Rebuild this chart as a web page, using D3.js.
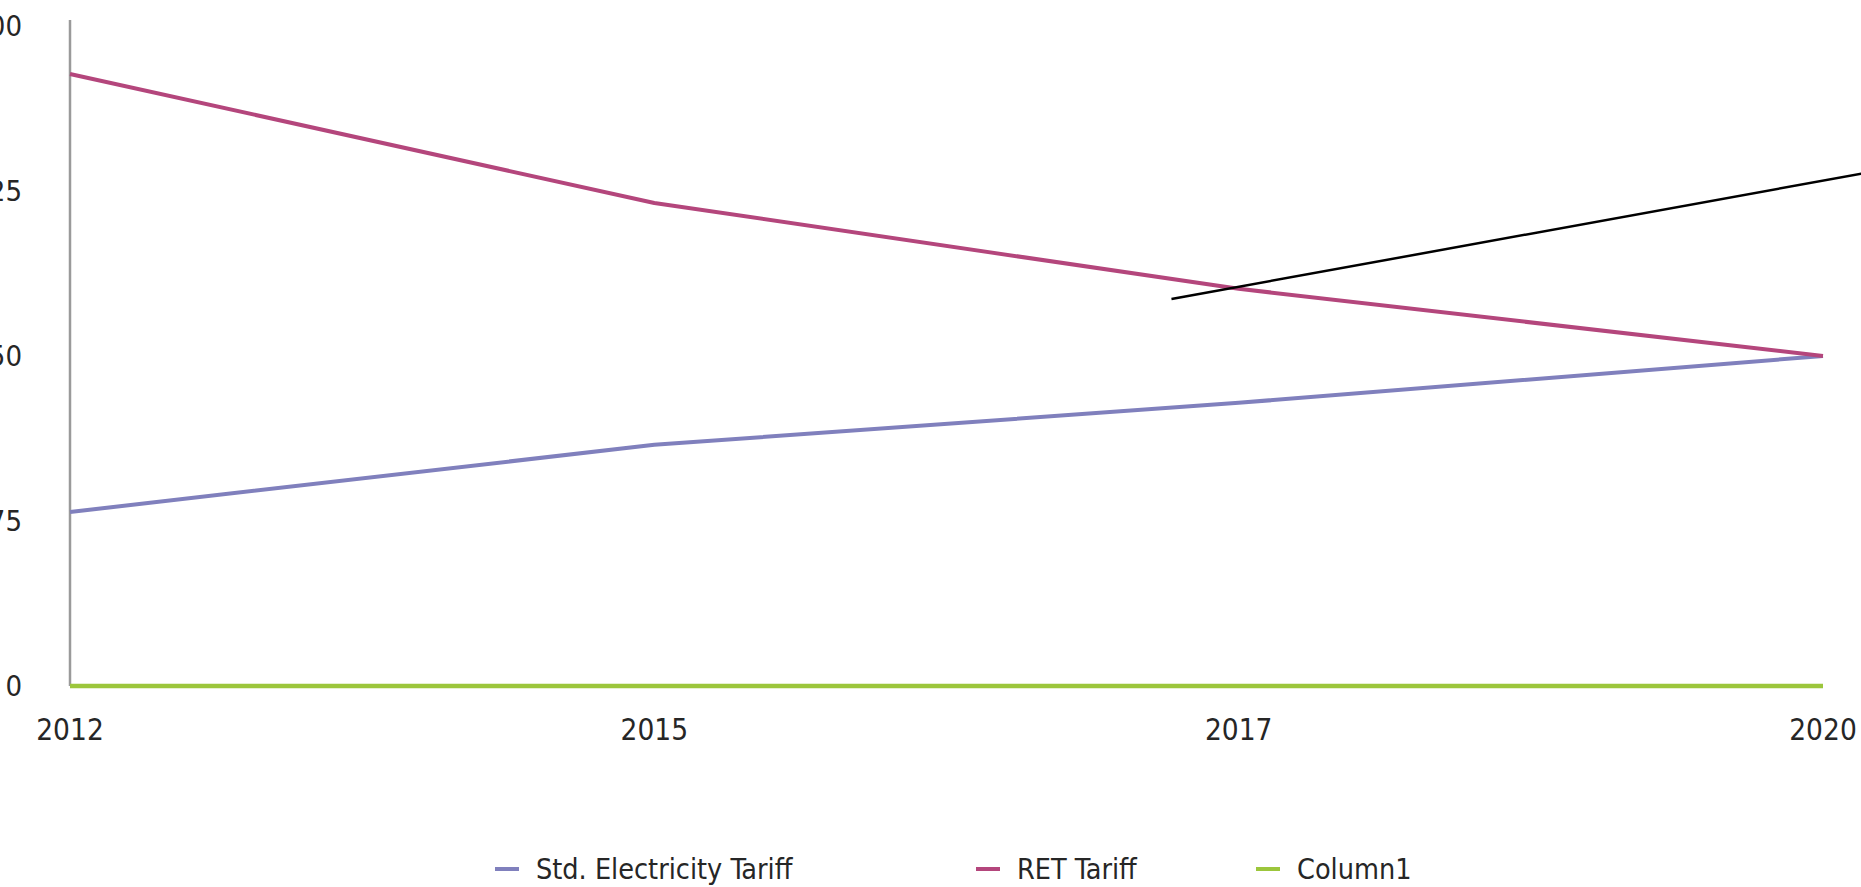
<!DOCTYPE html>
<html>
<head>
<meta charset="utf-8">
<script src="https://cdn.jsdelivr.net/npm/d3@7"></script>
<style>
  body { margin: 0; background: #fff; overflow: hidden; }
  text { font-family: "DejaVu Sans Condensed", "DejaVu Sans", sans-serif; fill: #262626; }
</style>
</head>
<body>
<script>
// tariff chart, values

var years = ["2012", "2015", "2017", "2020"];
var stdTariff = [2.9, 4.02, 4.72, 5.5];
var retTariff = [10.2, 8.05, 6.62, 5.5];
var column1 = [0, 0, 0, 0];
var yTicks = [0, 2.75, 5.5, 8.25, 11];
var seriesNames = ["Std. Electricity Tariff", "RET Tariff", "Column1"];
var seriesColors = ["#8080bd", "#b4467c", "#9cc63c"];
// annotation line, in (category index, value)
var noteLine = [[1.885, 6.45], [3.1, 8.6]];

var w = 1861, h = 887;
var margin = {top: 26, left: 70, right: 38, bottom: 201};

var svg = d3.select("body")
  .append("svg")
  .attr("width", w)
  .attr("height", h);

// x is an index scale so the years sit evenly apart
var x = d3.scaleLinear()
  .domain([0, years.length - 1])
  .range([margin.left, w - margin.right]);

var y = d3.scaleLinear()
  .domain([0, 11])
  .range([h - margin.bottom, margin.top]);

// y axis: only the line and the labels (left part runs off the page, as in the original)
svg.append("line")
  .attr("x1", x(0)).attr("x2", x(0))
  .attr("y1", y(11) - 6).attr("y2", y(0))
  .attr("stroke", "#9a9a9a")
  .attr("stroke-width", 2.5);

svg.selectAll(".ylab")
  .data(yTicks)
  .enter()
  .append("text")
  .attr("class", "ylab")
  .attr("x", 22)
  .attr("y", function(d) { return y(d); })
  .attr("dy", "0.36em")
  .attr("text-anchor", "end")
  .style("font-size", "29px")
  .text(function(d) { return d3.format(".2f")(d).replace(/^0\.00$/, "0"); });

svg.selectAll(".xlab")
  .data(years)
  .enter()
  .append("text")
  .attr("class", "xlab")
  .attr("x", function(d, i) { return x(i); })
  .attr("y", 740)
  .attr("text-anchor", "middle")
  .style("font-size", "29.5px")
  .text(function(d) { return d; });

var line = d3.line()
  .x(function(d, i) { return x(i); })
  .y(function(d) { return y(d); });

var allSeries = [stdTariff, retTariff, column1];
var widths = [4, 4, 4.5];

allSeries.forEach(function(s, k) {
  svg.append("path")
    .datum(s)
    .attr("d", line)
    .attr("fill", "none")
    .attr("stroke", seriesColors[k])
    .attr("stroke-width", widths[k])
    .attr("stroke-linejoin", "round");
});

// the black annotation line
svg.append("line")
  .attr("x1", x(noteLine[0][0])).attr("y1", y(noteLine[0][1]))
  .attr("x2", x(noteLine[1][0])).attr("y2", y(noteLine[1][1]))
  .attr("stroke", "#000")
  .attr("stroke-width", 2.5);

// legend
var legendX = [495, 976, 1256];
var legend = svg.selectAll(".leg")
  .data(seriesNames)
  .enter()
  .append("g")
  .attr("class", "leg")
  .attr("transform", function(d, i) { return "translate(" + legendX[i] + ",869)"; });

legend.append("line")
  .attr("x1", 0).attr("x2", 24)
  .attr("y1", 0).attr("y2", 0)
  .attr("stroke", function(d, i) { return seriesColors[i]; })
  .attr("stroke-width", 4);

legend.append("text")
  .attr("x", 41)
  .attr("dy", "0.36em")
  .style("font-size", "28.5px")
  .text(function(d) { return d; });
</script>
</body>
</html>
